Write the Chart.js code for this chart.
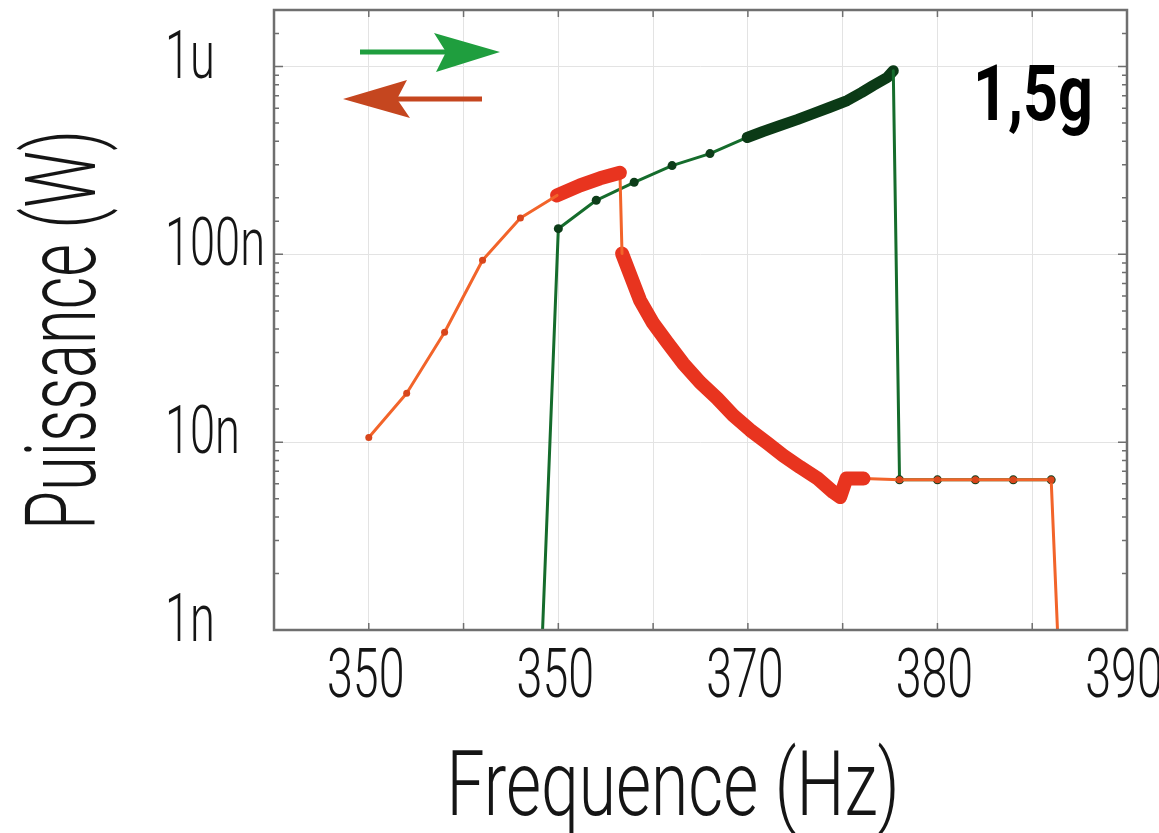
<!DOCTYPE html>
<html>
<head>
<meta charset="utf-8">
<script src="https://cdn.jsdelivr.net/npm/chart.js@4.4.1/dist/chart.umd.min.js"></script>
<style>
  body { margin: 0; background: #fff; }
  canvas { display: block; }
</style>
</head>
<body>
<canvas id="grafico" width="1159" height="833"></canvas>
<script>
// balayage aller (vert) : frequence montante
const freqAller = [358, 360, 362, 364, 366, 368, 369.96, 370.8, 371.7, 372.6, 373.44, 374.3, 375.24, 376.0, 376.61, 377.35, 377.67, 378, 380, 382, 384, 386];
const puissanceAller = [1e-12, 1.37e-7, 1.94e-7, 2.42e-7, 2.97e-7, 3.44e-7, 4.19e-7, 4.51e-7, 4.85e-7, 5.22e-7, 5.62e-7, 6.05e-7, 6.59e-7, 7.27e-7, 7.92e-7, 8.74e-7, 9.5e-7, 6.3e-9, 6.3e-9, 6.3e-9, 6.3e-9, 6.3e-9];

// balayage retour (orange) : frequence descendante
const freqRetour = [388, 386, 384, 382, 380, 378, 376.1, 375.6, 375.2, 374.87, 374.5, 373.65, 372.76, 371.86, 371.02, 370.12, 369.22, 368.38, 367.48, 366.58, 365.74, 365.0, 364.31, 363.36, 363.25, 362.2, 361.15, 359.93, 358, 356, 354, 352, 350];
const puissanceRetour = [1e-13, 6.3e-9, 6.3e-9, 6.3e-9, 6.3e-9, 6.3e-9, 6.4e-9, 6.4e-9, 6.4e-9, 5.1e-9, 5.42e-9, 6.44e-9, 7.36e-9, 8.5e-9, 9.9e-9, 1.16e-8, 1.39e-8, 1.71e-8, 2.08e-8, 2.63e-8, 3.4e-8, 4.3e-8, 5.69e-8, 1.01e-7, 2.72e-7, 2.54e-7, 2.33e-7, 2.06e-7, 1.56e-7, 9.3e-8, 3.85e-8, 1.82e-8, 1.06e-8];

// graduations
const xTickValues = [350, 360, 370, 380, 390];
const xTickLabels = ["350", "350", "370", "380", "390"];
const yTickValues = [1e-9, 1e-8, 1e-7, 1e-6];
const yTickLabels = ["1n", "10n", "100n", "1u"];

const FONT = "Roboto, 'DejaVu Sans', sans-serif";

function pontos(xs, ys) {
    return xs.map((x, i) => ({ x: x, y: ys[i] }));
}

function ehDecada(v) {
    const l = Math.log10(v);
    return Math.abs(l - Math.round(l)) < 1e-6;
}

// segment "dense" = echantillonnage serre, trace en trait epais
function segDense(ctx) {
    const a = ctx.p0.parsed, b = ctx.p1.parsed;
    return Math.abs(a.x - b.x) < 1.8 && Math.abs(Math.log10(a.y) - Math.log10(b.y)) < 0.3;
}

function pontoMarcado(ctx) {
    const v = ctx.raw ? ctx.raw.x : NaN;
    return Math.abs(v - Math.round(v)) < 0.01 && Math.round(v) % 2 === 0;
}

// texte etroit : la police est comprimee horizontalement (sx)
function textoEstreito(ctx, txt, x, y, sx, align) {
    ctx.save();
    ctx.translate(x, y);
    ctx.scale(sx, 1);
    ctx.textAlign = align;
    ctx.fillText(txt, 0, 0);
    ctx.restore();
}

function escalaPara(ctx, txt, largura) {
    return largura / ctx.measureText(txt).width;
}

const decor = {
    id: "decor",
    afterDatasetsDraw(chart) {
        const { ctx, chartArea: a, scales } = chart;
        ctx.save();
        ctx.strokeStyle = "#6f6f6f";
        ctx.lineWidth = 1.5;
        ctx.beginPath();
        // petites graduations vers l'interieur
        scales.y.ticks.forEach(t => {
            const py = scales.y.getPixelForValue(t.value);
            if (py < a.top - 1 || py > a.bottom + 1) return;
            const len = ehDecada(t.value) ? 9 : 5;
            ctx.moveTo(a.left, py); ctx.lineTo(a.left + len, py);
            ctx.moveTo(a.right, py); ctx.lineTo(a.right - len, py);
        });
        scales.x.ticks.forEach(t => {
            const px = scales.x.getPixelForValue(t.value);
            ctx.moveTo(px, a.bottom); ctx.lineTo(px, a.bottom - 7);
            ctx.moveTo(px, a.top); ctx.lineTo(px, a.top + 7);
        });
        ctx.stroke();
        ctx.lineWidth = 2.5;
        ctx.strokeRect(a.left, a.top, a.right - a.left, a.bottom - a.top);
        ctx.restore();
    },
    afterDraw(chart) {
        const { ctx, chartArea: a, scales } = chart;
        ctx.save();
        ctx.fillStyle = "#151515";
        ctx.textBaseline = "alphabetic";

        // libelles des graduations
        ctx.font = "300 66px " + FONT;
        const sxTick = escalaPara(ctx, "100n", 100);
        yTickValues.forEach((v, i) => {
            const py = scales.y.getPixelForValue(v);
            textoEstreito(ctx, yTickLabels[i], 165, py + 11, sxTick, "left");
        });
        ctx.font = "300 68px " + FONT;
        xTickValues.forEach((v, i) => {
            const px = scales.x.getPixelForValue(v);
            textoEstreito(ctx, xTickLabels[i], px - 3, 697, sxTick, "center");
        });

        // titres des axes
        ctx.font = "300 90px " + FONT;
        textoEstreito(ctx, "Frequence (Hz)", 673, 815, escalaPara(ctx, "Frequence (Hz)", 453), "center");
        ctx.save();
        ctx.translate(95, 330);
        ctx.rotate(-Math.PI / 2);
        ctx.font = "300 98px " + FONT;
        textoEstreito(ctx, "Puissance (W)", 0, 0, escalaPara(ctx, "Puissance (W)", 400), "center");
        ctx.restore();

        ctx.font = "bold 78px " + FONT;
        ctx.fillStyle = "#000";
        textoEstreito(ctx, "1,5g", 973, 120, escalaPara(ctx, "1,5g", 120), "left");

        // fleches du sens de balayage
        const x0 = a.left, y0 = a.top;
        ctx.lineWidth = 5;
        ctx.strokeStyle = ctx.fillStyle = "#1f9e3e";
        ctx.beginPath();
        ctx.moveTo(x0 + 86, y0 + 42); ctx.lineTo(x0 + 175, y0 + 42);
        ctx.stroke();
        ctx.beginPath();
        ctx.moveTo(x0 + 226, y0 + 42);
        ctx.lineTo(x0 + 160, y0 + 23);
        ctx.lineTo(x0 + 172, y0 + 42);
        ctx.lineTo(x0 + 162, y0 + 62);
        ctx.closePath();
        ctx.fill();

        ctx.strokeStyle = ctx.fillStyle = "#c5461f";
        ctx.beginPath();
        ctx.moveTo(x0 + 208, y0 + 89); ctx.lineTo(x0 + 120, y0 + 89);
        ctx.stroke();
        ctx.beginPath();
        ctx.moveTo(x0 + 69, y0 + 89);
        ctx.lineTo(x0 + 133, y0 + 70);
        ctx.lineTo(x0 + 123, y0 + 89);
        ctx.lineTo(x0 + 136, y0 + 108);
        ctx.closePath();
        ctx.fill();
        ctx.restore();
    }
};

const ctx = document.getElementById("grafico").getContext("2d");

new Chart(ctx, {
    type: "line",
    data: {
        datasets: [
            {
                label: "Retour",
                data: pontos(freqRetour, puissanceRetour),
                borderColor: "#f2642a",
                borderWidth: 3,
                pointRadius: c => pontoMarcado(c) ? 3.5 : 0,
                pointBackgroundColor: "#d8461c",
                pointBorderWidth: 0,
                segment: {
                    borderWidth: c => segDense(c) ? 14 : 3,
                    borderColor: c => segDense(c) ? "#e8341f" : "#f2642a"
                }
            },
            {
                label: "Aller",
                data: pontos(freqAller, puissanceAller),
                borderColor: "#156c2c",
                borderWidth: 3,
                pointRadius: c => pontoMarcado(c) ? 4.5 : 0,
                pointBackgroundColor: "#0d3d19",
                pointBorderWidth: 0,
                segment: {
                    borderWidth: c => segDense(c) ? 11 : 3,
                    borderColor: c => segDense(c) ? "#0b3a16" : "#156c2c"
                }
            }
        ]
    },
    options: {
        responsive: false,
        animation: false,
        devicePixelRatio: 1,
        layout: { padding: { left: 163, right: 32, top: 10, bottom: 0 } },
        elements: {
            line: { tension: 0, borderCapStyle: "round", borderJoinStyle: "round" }
        },
        plugins: {
            legend: { display: false },
            tooltip: { enabled: false }
        },
        scales: {
            x: {
                type: "linear",
                min: 345,
                max: 390,
                ticks: { stepSize: 5, autoSkip: false, display: false },
                grid: { color: "#e3e3e3", drawTicks: false },
                border: { display: false },
                afterFit: s => { s.height = 203; s.paddingLeft = 0; s.paddingRight = 0; }
            },
            y: {
                type: "logarithmic",
                min: 1e-9,
                max: 2e-6,
                ticks: { autoSkip: false, display: false },
                grid: {
                    color: c => ehDecada(c.tick.value) ? "#e3e3e3" : "rgba(0,0,0,0)",
                    drawTicks: false
                },
                border: { display: false },
                afterFit: s => { s.width = 111; s.paddingTop = 0; s.paddingBottom = 0; }
            }
        }
    },
    plugins: [decor]
});
</script>
</body>
</html>
